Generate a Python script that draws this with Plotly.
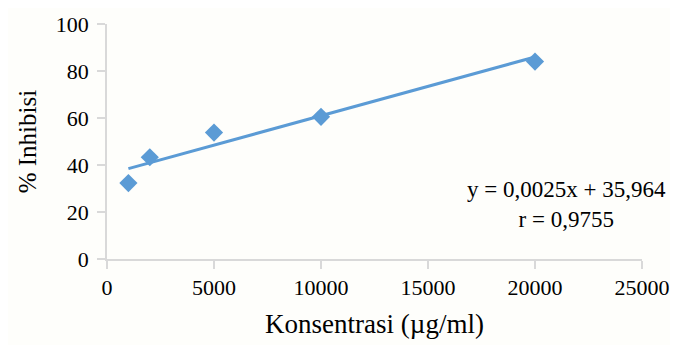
import plotly.graph_objects as go

konsentrasi = [1000, 2000, 5000, 10000, 20000]
inhibisi = [32.3, 43.3, 53.8, 60.5, 84.0]
x_ticks = [0, 5000, 10000, 15000, 20000, 25000]
y_ticks = [0, 20, 40, 60, 80, 100]
equation_text = "y = 0,0025x + 35,964<br>r = 0,9755"
x_title = "Konsentrasi (µg/ml)"
y_title = "% Inhibisi"
slope = 0.0025
intercept = 35.964

color = "#5b9bd5"
font_family = "Liberation Serif"

x_fit = [min(konsentrasi), max(konsentrasi)]
y_fit = [slope * v + intercept for v in x_fit]

fig = go.Figure()
fig.add_trace(go.Scatter(x=x_fit, y=y_fit, mode="lines",
                         line=dict(color=color, width=3), hoverinfo="skip",
                         showlegend=False))
fig.add_trace(go.Scatter(x=konsentrasi, y=inhibisi, mode="markers",
                         marker=dict(symbol="diamond", size=14, color=color),
                         showlegend=False))

fig.add_annotation(x=0.858, y=0.234, xref="paper", yref="paper", text=equation_text,
                   showarrow=False, align="center", xanchor="center", yanchor="middle",
                   font=dict(family=font_family, size=23, color="#000000"))

fig.add_annotation(x=-0.148, y=0.5, xref="paper", yref="paper", text=y_title,
                   showarrow=False, textangle=-90, xanchor="center", yanchor="middle",
                   font=dict(family=font_family, size=25, color="#000000"))

axis_common = dict(showgrid=False, zeroline=False, showline=True, linecolor="#d9d9d9",
                   linewidth=1.5, ticks="outside", tickcolor="#d9d9d9", ticklen=8,
                   tickwidth=1.5, automargin=False,
                   tickfont=dict(family=font_family, size=22, color="#000000"))

fig.update_layout(
    width=670, height=337,
    margin=dict(l=99, r=36, t=16, b=86),
    font=dict(family=font_family),
    paper_bgcolor="#fefefb", plot_bgcolor="#fefefb",
    xaxis=dict(range=[0, 25000], tickvals=x_ticks, ticktext=[str(v) for v in x_ticks],
               title=dict(text=x_title,
                          font=dict(family=font_family, size=27, color="#000000")),
               **axis_common),
    yaxis=dict(range=[0, 100], tickvals=y_ticks, ticktext=[str(v) for v in y_ticks],
               ticklabelstandoff=4,
               **axis_common),
)

fig.write_html("out.html")
